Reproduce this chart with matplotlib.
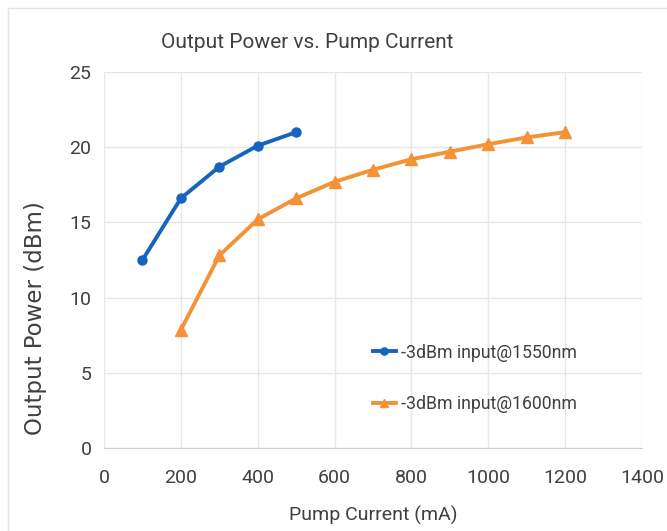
import matplotlib.pyplot as plt
import matplotlib.patches as mpatches

# pump current (mA) and output power (dBm)
current_1550 = [100, 200, 300, 400, 500]
power_1550 = [12.5, 16.6, 18.7, 20.1, 21.0]

current_1600 = [200, 300, 400, 500, 600, 700, 800, 900, 1000, 1100, 1200]
power_1600 = [7.85, 12.8, 15.2, 16.6, 17.7, 18.5, 19.2, 19.7, 20.2, 20.65, 21.0]

x_ticks = [0, 200, 400, 600, 800, 1000, 1200, 1400]
y_ticks = [0, 5, 10, 15, 20, 25]

narrow = ['Roboto', 'DejaVu Sans']
txt_color = '#404040'

fig = plt.figure(figsize=(6.67, 5.31), dpi=100)
ax = fig.add_axes([104 / 667, 1 - 448 / 531, (642 - 104) / 667, (448 - 72) / 531])

# faint chart border like the spreadsheet export
fig.patches.append(mpatches.Rectangle((8 / 667, -0.01), 1.0, 1 - 8 / 531 + 0.01,
                                      transform=fig.transFigure, fill=False,
                                      edgecolor='#e4e4e4', linewidth=1))

ax.plot(current_1550, power_1550, color='#1565c0', marker='o', markersize=6.5,
        linewidth=2.8, label='-3dBm input@1550nm', zorder=3)
ax.plot(current_1600, power_1600, color='#f39237', marker='^', markersize=8,
        linewidth=2.8, label='-3dBm input@1600nm', zorder=3)

ax.set_xlim(0, 1400)
ax.set_ylim(0, 25)
ax.set_xticks(x_ticks)
ax.set_yticks(y_ticks)
ax.grid(True, color='#e6e6e6', linewidth=1)
ax.set_axisbelow(True)
for s in ['top', 'right', 'left']:
    ax.spines[s].set_visible(False)
ax.spines['bottom'].set_color('#d0d0d0')
ax.tick_params(length=0, labelsize=14, labelcolor=txt_color)
ax.tick_params(axis='x', pad=15)
ax.tick_params(axis='y', pad=9)
for lab in ax.get_xticklabels() + ax.get_yticklabels():
    lab.set_family(narrow)

ax.set_xlabel('Pump Current (mA)', fontsize=14, color=txt_color, family=narrow, labelpad=14)
fig.text(36 / 667, 1 - 318 / 531, 'Output Power (dBm)', fontsize=16.5, color=txt_color,
         family='DejaVu Sans', rotation=90, ha='center', va='center')
fig.text(307 / 667, 1 - 42 / 531, 'Output Power vs. Pump Current', fontsize=15,
         color=txt_color, family=narrow, ha='center', va='center')

leg = ax.legend(loc='upper left', bbox_to_anchor=(0.47, 0.32), frameon=False,
                labelspacing=1.9, handlelength=1.3, handletextpad=0.3, markerscale=0.8,
                prop={'family': narrow, 'size': 12.7})
for t in leg.get_texts():
    t.set_color(txt_color)

fig.savefig('out.png', dpi=100)
